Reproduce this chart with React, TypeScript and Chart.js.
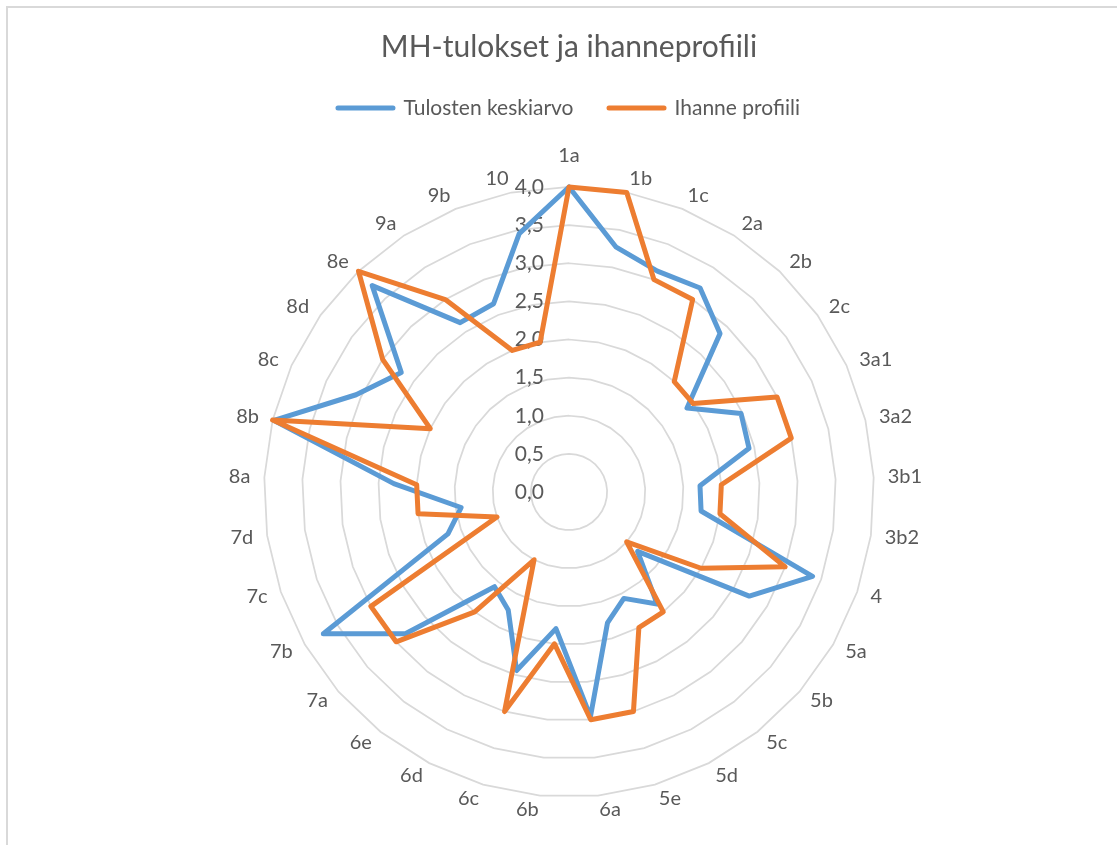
import React, { useEffect, useRef } from 'react';
import { Chart, registerables } from 'chart.js';

Chart.register(...registerables);

const categories = ['1a', '1b', '1c', '2a', '2b', '2c', '3a1', '3a2', '3b1', '3b2', '4', '5a', '5b', '5c', '5d', '5e', '6a', '6b', '6c', '6d', '6e', '7a', '7b', '7c', '7d', '8a', '8b', '8c', '8d', '8e', '9a', '9b', '10'];

const tulostenKeskiarvo = [4.0, 3.27, 3.12, 3.18, 2.87, 1.9, 2.48, 2.43, 1.72, 1.75, 3.38, 2.73, 1.19, 1.87, 1.57, 1.79, 2.96, 1.8, 2.44, 1.74, 1.58, 2.84, 3.72, 1.68, 1.43, 2.3, 3.98, 3.07, 2.7, 3.74, 2.64, 2.66, 3.45];

const ihanneProfiili = [4, 4, 3, 3, 2, 2, 3, 3, 2, 2, 3, 2, 1, 2, 2, 3, 3, 2, 3, 1, 2, 3, 3, 1, 2, 2, 4, 2, 3, 4, 3, 2, 2];

const tickValues = [0, 0.5, 1, 1.5, 2, 2.5, 3, 3.5, 4];
const tickLabels = ['0,0', '0,5', '1,0', '1,5', '2,0', '2,5', '3,0', '3,5', '4,0'];

const seriesNames = ['Tulosten keskiarvo', 'Ihanne profiili'];
const seriesColors = ['#5B9BD5', '#ED7D31'];

const TEXT = '#595959';
const FONT = 'Lato';

export default function App() {
  const ref = useRef<HTMLCanvasElement>(null);

  useEffect(() => {
    if (!ref.current) return;

    // value axis labels (left of the vertical axis, under the series lines)
    const tickText = {
      id: 'tickText',
      beforeDatasetsDraw(chart: any) {
        const s = chart.scales.r;
        const ctx = chart.ctx;
        ctx.save();
        ctx.font = `21px ${FONT}`;
        ctx.fillStyle = TEXT;
        ctx.textAlign = 'right';
        ctx.textBaseline = 'middle';
        tickValues.forEach((v, i) => {
          const y = s.yCenter - s.getDistanceFromCenterForValue(v);
          ctx.fillText(tickLabels[i], s.xCenter - 25, y);
        });
        ctx.restore();
      },
    };

    // category labels placed around the radar, Excel style
    const categoryText = {
      id: 'categoryText',
      afterDraw(chart: any) {
        const s = chart.scales.r;
        const ctx = chart.ctx;
        ctx.save();
        ctx.font = `20px ${FONT}`;
        ctx.fillStyle = TEXT;
        ctx.textBaseline = 'middle';
        const dist = s.drawingArea + 14;
        s._pointLabels.forEach((label: string, i: number) => {
          const p = s.getPointPosition(i, dist);
          const a = s.getIndexAngle(i);
          const sin = Math.sin(a);
          const cos = Math.cos(a);
          let y = p.y;
          if (Math.abs(sin) < 1e-3) {
            ctx.textAlign = 'center';
            y = p.y - 17 * Math.sign(cos);
          } else {
            ctx.textAlign = sin > 0 ? 'left' : 'right';
          }
          ctx.fillText(label, p.x, y);
        });
        ctx.restore();
      },
    };

    const lineW = 5;
    const chart = new Chart(ref.current, {
      type: 'radar',
      data: {
        labels: categories,
        datasets: [
          {
            label: seriesNames[0],
            data: tulostenKeskiarvo,
            borderColor: seriesColors[0],
            backgroundColor: seriesColors[0],
            borderWidth: lineW,
            pointBorderWidth: lineW,
            pointRadius: 0,
            pointHoverRadius: 0,
            fill: false,
            tension: 0,
            borderJoinStyle: 'round',
            borderCapStyle: 'round',
            order: 1,
          },
          {
            label: seriesNames[1],
            data: ihanneProfiili,
            borderColor: seriesColors[1],
            backgroundColor: seriesColors[1],
            borderWidth: lineW,
            pointBorderWidth: lineW,
            pointRadius: 0,
            pointHoverRadius: 0,
            fill: false,
            tension: 0,
            borderJoinStyle: 'round',
            borderCapStyle: 'round',
            order: 0,
          },
        ],
      },
      options: {
        responsive: false,
        maintainAspectRatio: false,
        devicePixelRatio: 1,
        animation: false,
        events: [],
        layout: { padding: { top: 0, left: 0, right: 0, bottom: 48 } },
        scales: {
          r: {
            min: 0,
            max: 4,
            beginAtZero: true,
            ticks: { stepSize: 0.5, display: false },
            grid: { display: true, circular: false, color: '#d9d9d9', lineWidth: 1.75 },
            angleLines: { display: false },
            pointLabels: { display: false },
          },
        },
        plugins: {
          title: {
            display: true,
            text: 'MH-tulokset ja ihanneprofiili',
            color: TEXT,
            font: { family: FONT, size: 30, weight: 'normal', lineHeight: 1 },
            padding: { top: 24, bottom: 0 },
          },
          subtitle: {
            display: true,
            text: '',
            position: 'top',
            weight: 500,
            font: { family: FONT, size: 1, lineHeight: 1 },
            padding: { top: 0, bottom: 57.5 },
          },
          legend: {
            display: true,
            position: 'top',
            labels: {
              usePointStyle: true,
              pointStyle: 'line',
              pointStyleWidth: 55,
              padding: 35.5,
              color: TEXT,
              font: { family: FONT, size: 21 },
              generateLabels: (c: any) =>
                c.data.datasets.map((ds: any, i: number) => ({
                  text: ds.label,
                  fillStyle: ds.borderColor,
                  strokeStyle: ds.borderColor,
                  lineWidth: lineW,
                  lineCap: 'round',
                  pointStyle: 'line',
                  hidden: false,
                  fontColor: TEXT,
                  datasetIndex: i,
                })),
            },
          },
          tooltip: { enabled: false },
        },
      },
      plugins: [tickText, categoryText],
    } as any);
    return () => chart.destroy();
  }, []);

  return (
    <div
      style={{
        position: 'fixed',
        left: 6,
        top: 6,
        width: 1130,
        height: 860,
        border: '2px solid #d9d9d9',
        overflow: 'hidden',
        background: '#ffffff',
      }}
    >
      <canvas ref={ref} width={1122} height={837} style={{ display: 'block', width: 1122, height: 837 }} />
    </div>
  );
}
